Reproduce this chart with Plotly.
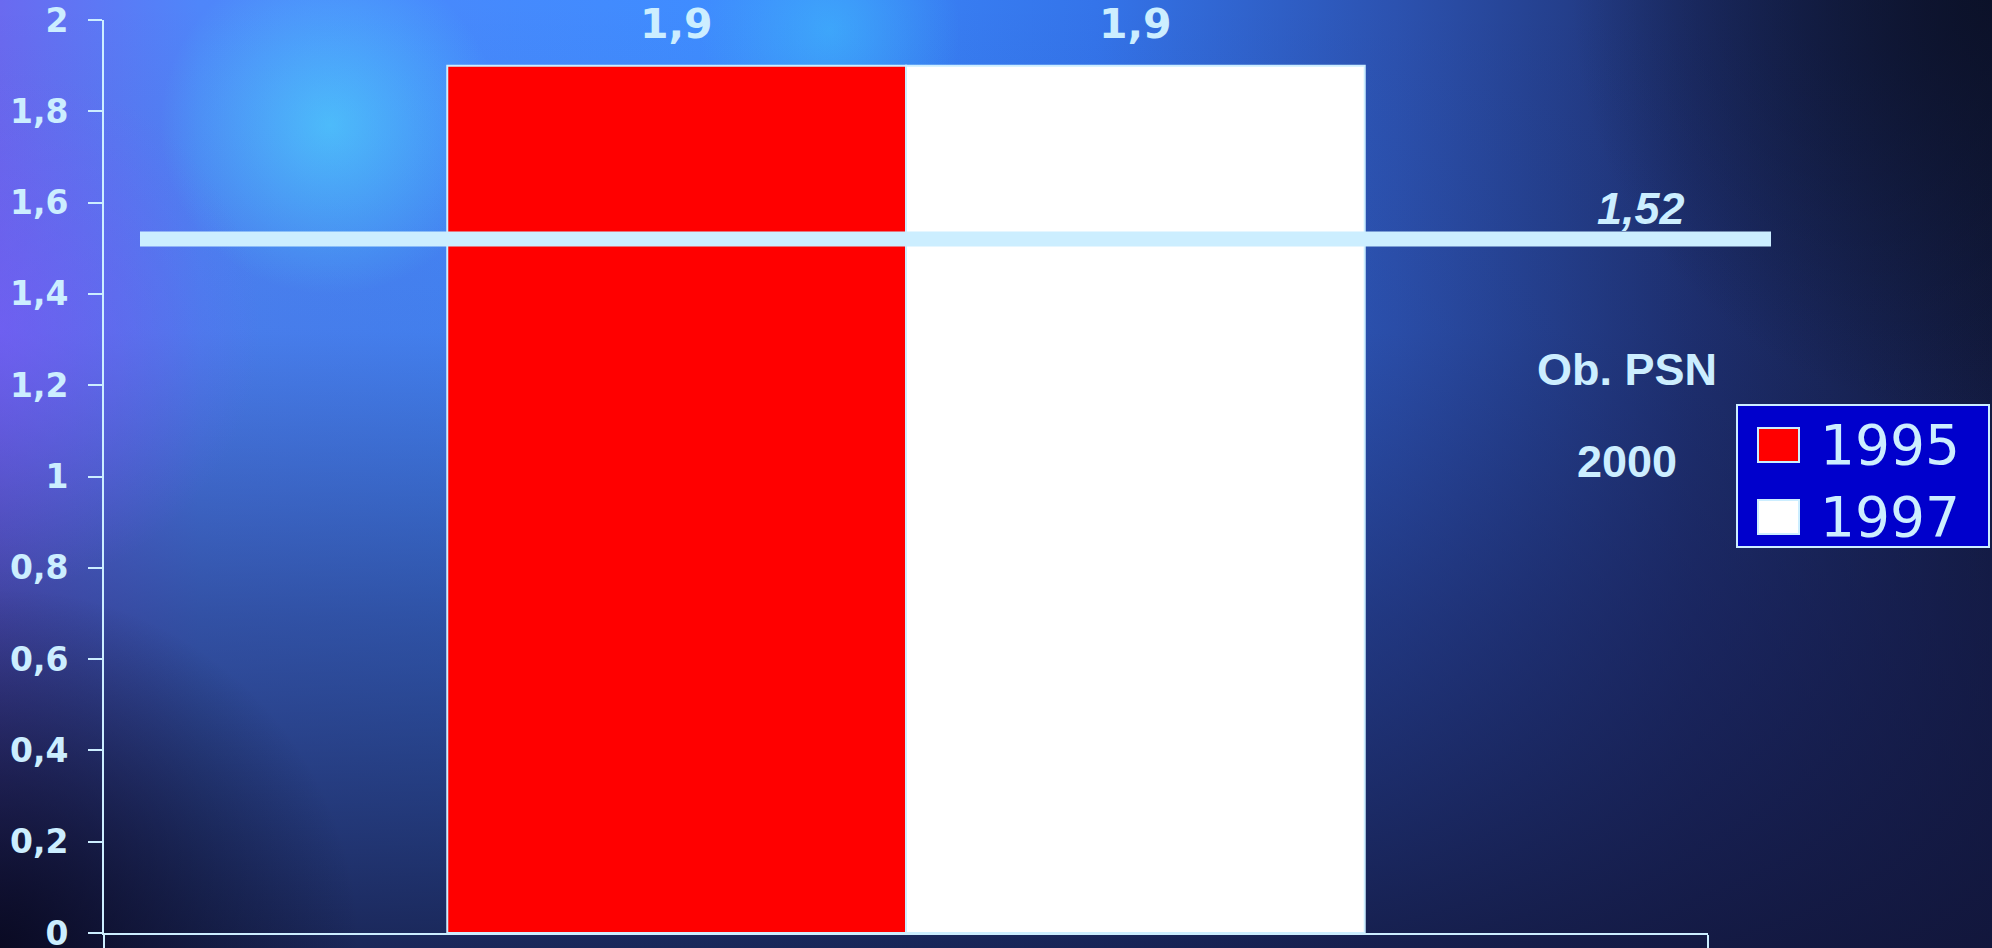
import base64
import plotly.graph_objects as go

# ---- data ----
categories = ["Ob. PSN"]
series_names = ["1995", "1997"]
series_colors = ["#ff0000", "#ffffff"]
values_1995 = [1.9]
values_1997 = [1.9]
target_value = 1.52
target_label_lines = ["Ob. PSN", "2000"]
y_ticks = [0, 0.2, 0.4, 0.6, 0.8, 1.0, 1.2, 1.4, 1.6, 1.8, 2.0]

LIGHT = "#cceeff"
W, H = 1992, 948
ML, MR, MT, MB = 104, 284, 20, 15
PW, PH = W - ML - MR, H - MT - MB
BARGAP = 0.428


def px_x(x):
    return (x - ML) / PW


def px_y(y):
    return (H - MB - y) / PH


# ---- background (svg gradients) ----
svg = f'''<svg xmlns="http://www.w3.org/2000/svg" width="{W}" height="{H}" viewBox="0 0 {W} {H}">
<defs>
<linearGradient id="h" x1="0" y1="0" x2="1" y2="0">
 <stop offset="0" stop-color="#6a6af0"/>
 <stop offset="0.10" stop-color="#4f86fa"/>
 <stop offset="0.35" stop-color="#3f8cff"/>
 <stop offset="0.55" stop-color="#3474ea"/>
 <stop offset="0.70" stop-color="#2c52b0"/>
 <stop offset="0.85" stop-color="#1e3070"/>
 <stop offset="1" stop-color="#121a3c"/>
</linearGradient>
<linearGradient id="v" x1="0" y1="0" x2="0" y2="1">
 <stop offset="0" stop-color="#141c48" stop-opacity="0"/>
 <stop offset="0.35" stop-color="#18205a" stop-opacity="0.1"/>
 <stop offset="0.65" stop-color="#161c50" stop-opacity="0.5"/>
 <stop offset="1" stop-color="#12163c" stop-opacity="0.85"/>
</linearGradient>
<radialGradient id="c1" cx="330" cy="125" r="170" gradientUnits="userSpaceOnUse">
 <stop offset="0" stop-color="#50e8ff" stop-opacity="0.55"/>
 <stop offset="1" stop-color="#50e8ff" stop-opacity="0"/>
</radialGradient>
<radialGradient id="c2" cx="830" cy="30" r="130" gradientUnits="userSpaceOnUse">
 <stop offset="0" stop-color="#40c8ff" stop-opacity="0.5"/>
 <stop offset="1" stop-color="#40c8ff" stop-opacity="0"/>
</radialGradient>
<radialGradient id="p1" cx="0" cy="330" r="260" gradientUnits="userSpaceOnUse">
 <stop offset="0" stop-color="#7a5cff" stop-opacity="0.5"/>
 <stop offset="1" stop-color="#7a5cff" stop-opacity="0"/>
</radialGradient>
<radialGradient id="d1" cx="0" cy="948" r="360" gradientUnits="userSpaceOnUse">
 <stop offset="0" stop-color="#06061a" stop-opacity="0.85"/>
 <stop offset="1" stop-color="#06061a" stop-opacity="0"/>
</radialGradient>
<radialGradient id="d2" cx="1992" cy="0" r="420" gradientUnits="userSpaceOnUse">
 <stop offset="0" stop-color="#0a0f24" stop-opacity="0.8"/>
 <stop offset="1" stop-color="#0a0f24" stop-opacity="0"/>
</radialGradient>
<radialGradient id="t1" cx="1100" cy="650" r="260" gradientUnits="userSpaceOnUse">
 <stop offset="0" stop-color="#2a6a8a" stop-opacity="0.3"/>
 <stop offset="1" stop-color="#2a6a8a" stop-opacity="0"/>
</radialGradient>
</defs>
<rect width="{W}" height="{H}" fill="url(#h)"/>
<rect width="{W}" height="{H}" fill="url(#v)"/>
<rect width="{W}" height="{H}" fill="url(#c1)"/>
<rect width="{W}" height="{H}" fill="url(#c2)"/>
<rect width="{W}" height="{H}" fill="url(#p1)"/>
<rect width="{W}" height="{H}" fill="url(#t1)"/>
<rect width="{W}" height="{H}" fill="url(#d1)"/>
<rect width="{W}" height="{H}" fill="url(#d2)"/>
</svg>'''
bg_uri = "data:image/svg+xml;base64," + base64.b64encode(svg.encode()).decode()

fig = go.Figure()
for name, color, vals in zip(series_names, series_colors, (values_1995, values_1997)):
    fig.add_trace(go.Bar(name=name, x=categories, y=vals,
                         marker=dict(color=color, line=dict(color=LIGHT, width=2))))

# value labels above bars
half = (1 - BARGAP) / 4
for off, vals in ((-half, values_1995), (half, values_1997)):
    for i, v in enumerate(vals):
        fig.add_annotation(x=i + off, y=v, xref="x", yref="y",
                           text=f"{v:.1f}".replace(".", ","), showarrow=False,
                           xanchor="center", yanchor="middle", yshift=42,
                           font=dict(family="DejaVu Sans", size=41, color=LIGHT, weight="bold"))

# target line
fig.add_shape(type="line", xref="paper", yref="y", x0=px_x(140), x1=px_x(1771),
              y0=target_value, y1=target_value, line=dict(color=LIGHT, width=15), layer="above")
fig.add_annotation(x=px_x(1641), y=target_value, xref="paper", yref="y",
                   text=f"<i>{target_value:.2f}</i>".replace(".", ","), showarrow=False,
                   xanchor="center", yanchor="middle", yshift=31,
                   font=dict(family="Liberation Sans", size=45, color=LIGHT, weight="bold"))
for txt, ypix in zip(target_label_lines, (370, 462)):
    fig.add_annotation(x=px_x(1627), y=px_y(ypix), xref="paper", yref="paper",
                       text=txt, showarrow=False, xanchor="center", yanchor="middle",
                       font=dict(family="Liberation Sans", size=45, color=LIGHT, weight="bold"))

# legend box (drawn to match the large symbols of the original)
fig.add_shape(type="rect", xref="paper", yref="paper", x0=px_x(1737), x1=px_x(1989),
              y0=px_y(547), y1=px_y(405), fillcolor="#0000cc", line=dict(color=LIGHT, width=2),
              layer="above")
for k, (name, color) in enumerate(zip(series_names, series_colors)):
    yc = 445 + 72 * k
    fig.add_shape(type="rect", xref="paper", yref="paper", x0=px_x(1758), x1=px_x(1799),
                  y0=px_y(yc + 17), y1=px_y(yc - 17), fillcolor=color,
                  line=dict(color=LIGHT, width=2), layer="above")
    fig.add_annotation(x=px_x(1818), y=px_y(yc), xref="paper", yref="paper", text=name,
                       showarrow=False, xanchor="left", yanchor="middle",
                       font=dict(family="DejaVu Sans", size=55, color=LIGHT))

fig.add_layout_image(source=bg_uri, xref="paper", yref="paper",
                     x=-ML / PW, y=1 + MT / PH, sizex=W / PW, sizey=H / PH,
                     xanchor="left", yanchor="top", sizing="stretch", layer="below")

fig.update_layout(
    width=W, height=H,
    margin=dict(l=ML, r=MR, t=MT, b=MB, autoexpand=False),
    paper_bgcolor="#1a2050", plot_bgcolor="rgba(0,0,0,0)",
    barmode="group", bargap=BARGAP, bargroupgap=0,
    separators=", ",
    showlegend=False,
    xaxis=dict(showline=True, linecolor=LIGHT, linewidth=2, showgrid=False,
               ticks="outside", tickson="boundaries", ticklen=16, tickwidth=2, tickcolor=LIGHT,
               showticklabels=False, zeroline=False, automargin=False),
    yaxis=dict(range=[0, 2], tickvals=y_ticks, showline=True, linecolor=LIGHT, linewidth=2,
               showgrid=False, zeroline=False, ticks="outside", ticklen=14, tickwidth=2,
               tickcolor=LIGHT, ticklabelstandoff=13, automargin=False,
               ticklabeloverflow="allow",
               tickfont=dict(family="DejaVu Sans", size=33, color=LIGHT, weight="bold")),
)

fig.write_html("out.html")
